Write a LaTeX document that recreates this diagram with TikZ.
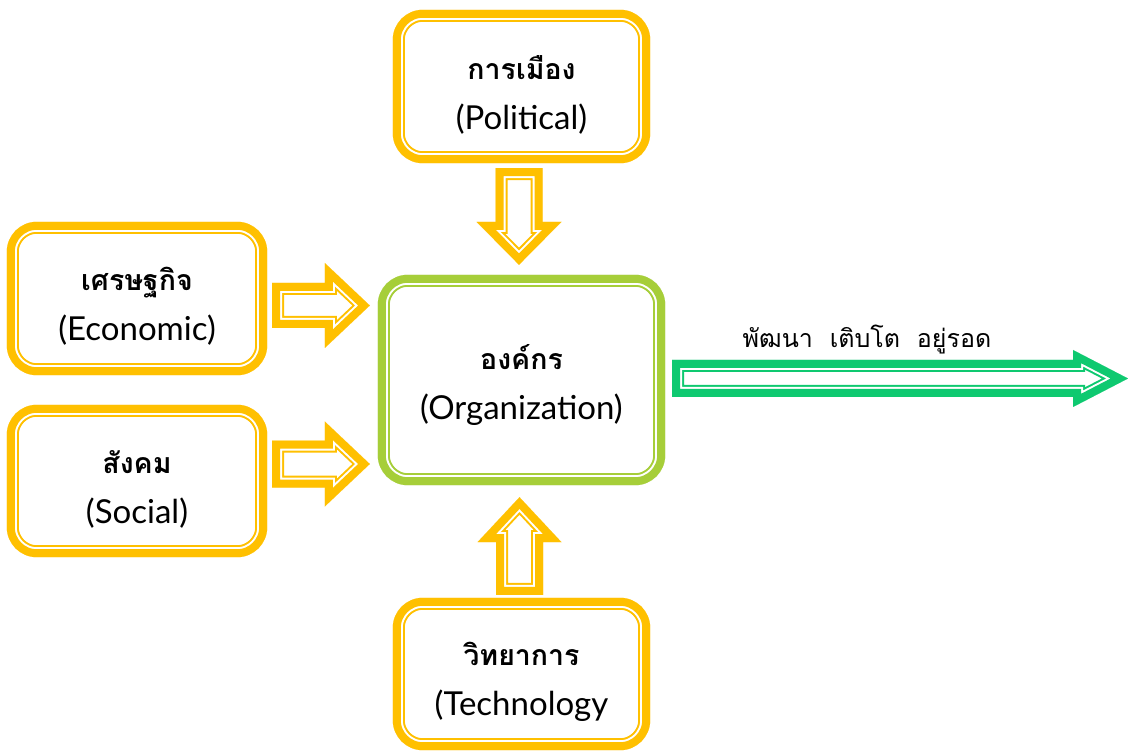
\documentclass[tikz,border=0pt]{standalone}
\usepackage{fontspec}
\newfontfamily\thai[Script=Thai]{Loma}
\newfontfamily\latn{Lato}
\usetikzlibrary{calc}
\definecolor{gold}{RGB}{255,192,0}
\definecolor{lime}{RGB}{166,206,57}
\definecolor{grn}{RGB}{14,201,112}
\newcommand\bandpath[2]{%
  \begin{scope}
    \clip #2;
    \fill[white] #2;
    \draw[#1,line width=24pt,line join=miter] #2;
    \draw[white,line width=20pt,line join=miter] #2;
    \draw[#1,line width=16pt,line join=miter] #2;
  \end{scope}}
\newcommand\fancybox[2]{\bandpath{#1}{[rounded corners=30pt] (#2.north west) rectangle (#2.south east)}}
% color, start, end, shaft half width, head half width, head length
\newcommand\blockarrow[6]{%
  \coordinate (hb) at ($(#3)!#6!(#2)$);
  \bandpath{#1}{($(#2)!#4!90:(#3)$) -- ($(hb)!#4!90:(#3)$) -- ($(hb)!#5!90:(#3)$) -- (#3)
     -- ($(hb)!#5!-90:(#3)$) -- ($(hb)!#4!-90:(#3)$) -- ($(#2)!#4!-90:(#3)$) -- cycle}}
\newcommand\twolines[2]{{\thai\fontsize{28.5}{50}\selectfont\textbf{#1}}\\{\latn\fontsize{33}{50}\selectfont #2}}
\begin{document}
\begin{tikzpicture}[x=1pt,y=-1pt,
  box/.style={inner sep=0pt,align=center,font=\fontsize{29}{50}\selectfont},
  lbl/.style={inner sep=0pt,font=\thai\fontsize{25}{30}\selectfont}]
\useasboundingbox (0,0) rectangle (1128,751);
\fill[white] (0,0) rectangle (1128,751);
\node[box,minimum width=257pt,minimum height=153pt] (pol) at (521.5,86.5) {};
\node[box,minimum width=287pt,minimum height=210pt] (org) at (521.5,380) {};
\node[box,minimum width=257pt,minimum height=152pt] (tech) at (521.5,674) {};
\node[box,minimum width=260pt,minimum height=153pt] (eco) at (137,298.5) {};
\node[box,minimum width=260pt,minimum height=152pt] (soc) at (137,481) {};
\fancybox{gold}{pol}
\fancybox{lime}{org}
\fancybox{gold}{tech}
\fancybox{gold}{eco}
\fancybox{gold}{soc}
\node[box] (polt) at ($(pol)+(0,8)$) {\twolines{การเมือง}{(Political)}};
\node[box] (orgt) at ($(org)+(0,5)$) {\twolines{องค์กร}{(Organization)}};
\node[box] (techt) at ($(tech)+(0,8)$) {\twolines{วิทยาการ}{(Technology}};
\node[box] (ecot) at ($(eco)+(0,8)$) {\twolines{เศรษฐกิจ}{(Economic)}};
\node[box] (soct) at ($(soc)+(0,8)$) {\twolines{สังคม}{(Social)}};
\coordinate (a1s) at ($(pol.south)+(-2.5,5)$);
\coordinate (a1e) at ($(org.north)+(-2.5,-10)$);
\blockarrow{gold}{a1s}{a1e}{23.5pt}{42.5pt}{43pt}
\coordinate (a2s) at ($(eco.east)+(5,7)$);
\coordinate (a2e) at ($(org.west |- a2s)+(-8,0)$);
\blockarrow{gold}{a2s}{a2e}{22.5pt}{42.5pt}{45pt}
\coordinate (a3s) at ($(soc.east)+(5,-17)$);
\coordinate (a3e) at ($(org.west |- a3s)+(-8,0)$);
\blockarrow{gold}{a3s}{a3e}{23.5pt}{42.5pt}{45pt}
\coordinate (a4s) at ($(tech.north)+(-2,-3)$);
\coordinate (a4e) at ($(org.south)+(-2,12)$);
\blockarrow{gold}{a4s}{a4e}{23.5pt}{42pt}{45pt}
\coordinate (a5s) at ($(org.east)+(7,-1.5)$);
\coordinate (a5e) at (1128,378.5);
\blockarrow{grn}{a5s}{a5e}{18.5pt}{28.5pt}{55pt}
\node[lbl] (grow) at (867,340) {พัฒนา~~เติบโต~~อยู่รอด};
\end{tikzpicture}
\end{document}
